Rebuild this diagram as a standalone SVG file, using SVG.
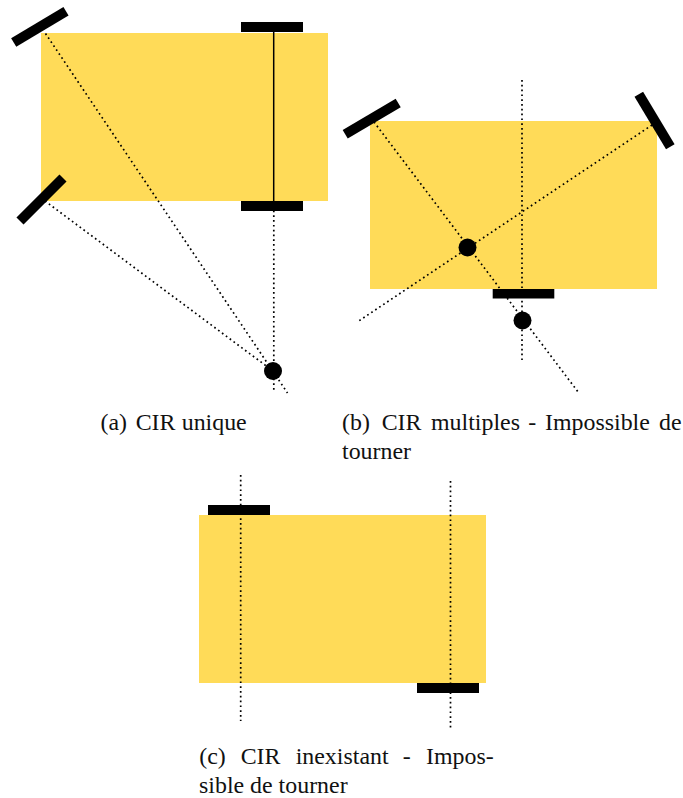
<svg xmlns="http://www.w3.org/2000/svg" width="683" height="798" viewBox="0 0 683 798">
<style>
.body{fill:#ffdb58}
.w{fill:#000}
.tw{stroke:#000;stroke-width:10;fill:none}
.dot{stroke:#000;stroke-width:1.7;stroke-dasharray:1.7 3.1;fill:none}
.cir{fill:#000}
text{font-family:"Liberation Serif","Times New Roman",serif;font-size:23.9px;fill:#111}
</style>
<rect width="683" height="798" fill="#fff"/>
<g id="robot-a-body"><rect class="body" x="41" y="33" width="287" height="168"/></g>
<g id="robot-b-body"><rect class="body" x="370" y="121" width="287" height="168"/></g>
<g id="robot-c-body"><rect class="body" x="199" y="515" width="287" height="168"/></g>
<g id="connectors">
<line class="dot" x1="45.5" y1="33.5" x2="287.5" y2="393"/>
<line class="dot" x1="45" y1="201" x2="273" y2="371"/>
<line x1="273.7" y1="32" x2="273.7" y2="201" stroke="#000" stroke-width="1.5"/>
<line class="dot" x1="273.8" y1="210.5" x2="273.8" y2="392"/>
<line class="dot" x1="374" y1="122" x2="578.5" y2="392.5"/>
<line class="dot" x1="652" y1="125" x2="358" y2="321.5"/>
<line class="dot" x1="522" y1="80" x2="522" y2="363"/>
<line class="dot" x1="240.7" y1="475" x2="240.7" y2="721"/>
<line class="dot" x1="450.5" y1="481" x2="450.5" y2="728"/>
</g>
<g id="wheels-a">
<line class="tw" x1="13.7" y1="42.5" x2="66" y2="11.2"/>
<line class="tw" x1="20" y1="221" x2="63" y2="178"/>
<rect class="w" x="241" y="22" width="62" height="10"/>
<rect class="w" x="241" y="201" width="62" height="10"/>
</g>
<g id="wheels-b">
<line class="tw" x1="345.2" y1="134.2" x2="398.2" y2="103"/>
<line class="tw" x1="638.8" y1="94.2" x2="670.3" y2="146.8"/>
<rect class="w" x="492.7" y="289" width="61.6" height="9.5"/>
</g>
<g id="wheels-c">
<rect class="w" x="208" y="505" width="62" height="10"/>
<rect class="w" x="417" y="683" width="62" height="10"/>
</g>
<g id="cir-a"><circle class="cir" cx="273" cy="371" r="9"/></g>
<g id="cir-b1"><circle class="cir" cx="467.5" cy="247.5" r="9"/></g>
<g id="cir-b2"><circle class="cir" cx="522.5" cy="320.5" r="9"/></g>
<g id="caption-a"><text y="429.5"><tspan x="100.5">(a)</tspan> <tspan x="135.7">CIR</tspan> <tspan x="181.7">unique</tspan></text></g>
<g id="caption-b">
<text y="429.5"><tspan x="342">(b)</tspan> <tspan x="381.7">CIR</tspan> <tspan x="431">multiples</tspan> <tspan x="528.3">-</tspan> <tspan x="545">Impossible</tspan> <tspan x="659">de</tspan></text>
<text x="342" y="459">tourner</text>
</g>
<g id="caption-c">
<text y="764"><tspan x="199.3">(c)</tspan> <tspan x="240.7">CIR</tspan> <tspan x="295.7">inexistant</tspan> <tspan x="402.7">-</tspan> <tspan x="426">Impos-</tspan></text>
<text x="199" y="793">sible de tourner</text>
</g>
</svg>
